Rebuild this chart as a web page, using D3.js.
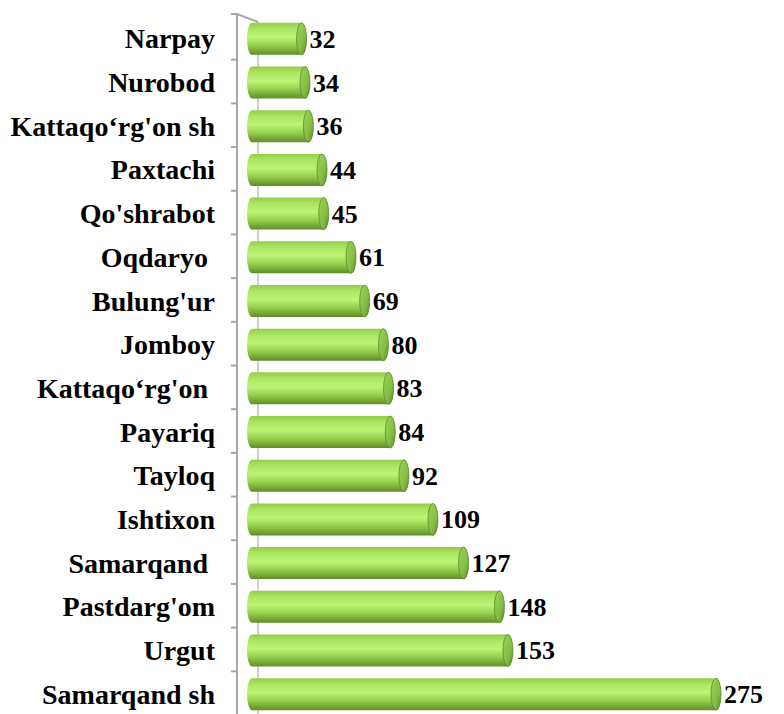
<!DOCTYPE html>
<html>
<head>
<meta charset="utf-8">
<script src="https://cdn.jsdelivr.net/npm/d3@7"></script>
<style>
  html, body { margin: 0; padding: 0; background: #fff; }
  svg { display: block; }
  text { font-family: "Liberation Serif", "Times New Roman", serif; font-weight: bold; fill: #000; white-space: pre; }
</style>
</head>
<body>
<svg id="chart"></svg>
<script>
const width = 784, height = 714;

// ---- data (top to bottom) ----
const districts = ["Narpay", "Nurobod", "Kattaqo\u2018rg'on sh", "Paxtachi", "Qo'shrabot", "Oqdaryo ",
  "Bulung'ur", "Jomboy", "Kattaqo\u2018rg'on ", "Payariq", "Tayloq", "Ishtixon", "Samarqand ",
  "Pastdarg'om", "Urgut", "Samarqand sh"];
const counts = [32, 34, 36, 44, 45, 61, 69, 80, 83, 84, 92, 109, 127, 148, 153, 275];

const axisX = 237,       // vertical axis line
  barX = 247,            // left end of bars
  barH = 32,             // bar thickness
  capRx = 5;             // right end ellipse

const svg = d3.select('#chart').attr('width', width).attr('height', height);

const y = d3.scaleBand(districts, [17, 716]);
const x = d3.scaleLinear([0, 275], [barX, barX + 469]);

// gradients
const defs = svg.append('defs');
const g1 = defs.append('linearGradient').attr('id', 'body').attr('x1', 0).attr('x2', 0).attr('y1', 0).attr('y2', 1);
[[0, '#92cc48'], [0.18, '#ace462'], [0.45, '#bcf476'], [0.7, '#97d04e'], [0.9, '#72a334'], [1, '#5f8c28']]
  .forEach(s => g1.append('stop').attr('offset', s[0]).attr('stop-color', s[1]));
const g2 = defs.append('linearGradient').attr('id', 'cap').attr('x1', 0).attr('x2', 1).attr('y1', 0).attr('y2', 1);
[[0, '#9ad455'], [0.6, '#86bd45'], [1, '#5c8a28']]
  .forEach(s => g2.append('stop').attr('offset', s[0]).attr('stop-color', s[1]));

// 3D wall lines
svg.append('line').attr('x1', axisX).attr('x2', axisX).attr('y1', 14).attr('y2', height)
  .attr('stroke', '#a6a6a6').attr('stroke-width', 2);
svg.append('line').attr('x1', axisX).attr('x2', 258).attr('y1', 14).attr('y2', 22)
  .attr('stroke', '#a6a6a6').attr('stroke-width', 2);
svg.append('line').attr('x1', 258).attr('x2', 258).attr('y1', 22).attr('y2', height)
  .attr('stroke', '#bfbfbf').attr('stroke-width', 1.5);

// boundary ticks
svg.append('g').selectAll('line')
  .data([14].concat(districts.slice(1).map(d => y(d) - 1)))
  .enter().append('line')
  .attr('x1', axisX - 6).attr('x2', axisX)
  .attr('y1', d => d).attr('y2', d => d)
  .attr('stroke', '#a6a6a6').attr('stroke-width', 2);

// category labels
const yAxis = d3.axisLeft(y).tickSize(0).tickPadding(0);
svg.append('g')
  .attr('transform', 'translate(215,0)')
  .call(yAxis)
  .call(g => g.select('.domain').remove())
  .selectAll('text')
  .attr('dy', '0.34em')
  .style('font-size', '28px')
  .attr('fill', '#000');

// bars
const bars = svg.append('g').selectAll('g')
  .data(districts.map((d, i) => ({ name: d, v: counts[i] })))
  .enter().append('g')
  .attr('transform', d => 'translate(0,' + (y(d.name) + y.bandwidth() / 2 - barH / 2) + ')');

bars.append('path')
  .attr('d', d => {
    const x1 = x(d.v);
    return 'M' + (barX + capRx) + ',0 L' + x1 + ',0 A' + capRx + ',' + (barH / 2) + ' 0 0 1 ' + x1 + ',' + barH +
      ' L' + (barX + capRx) + ',' + barH + ' A' + capRx + ',' + (barH / 2) + ' 0 0 1 ' + (barX + capRx) + ',0 Z';
  })
  .attr('fill', 'url(#body)');

bars.append('ellipse')
  .attr('cx', d => x(d.v))
  .attr('cy', barH / 2)
  .attr('rx', capRx)
  .attr('ry', barH / 2)
  .attr('fill', 'url(#cap)')
  .attr('stroke', '#5e8a2c')
  .attr('stroke-width', 0.8);

// value labels
bars.append('text')
  .attr('x', d => x(d.v) + capRx + 3)
  .attr('y', barH / 2 + 9)
  .style('font-size', '26px')
  .text(d => d.v);
</script>
</body>
</html>
